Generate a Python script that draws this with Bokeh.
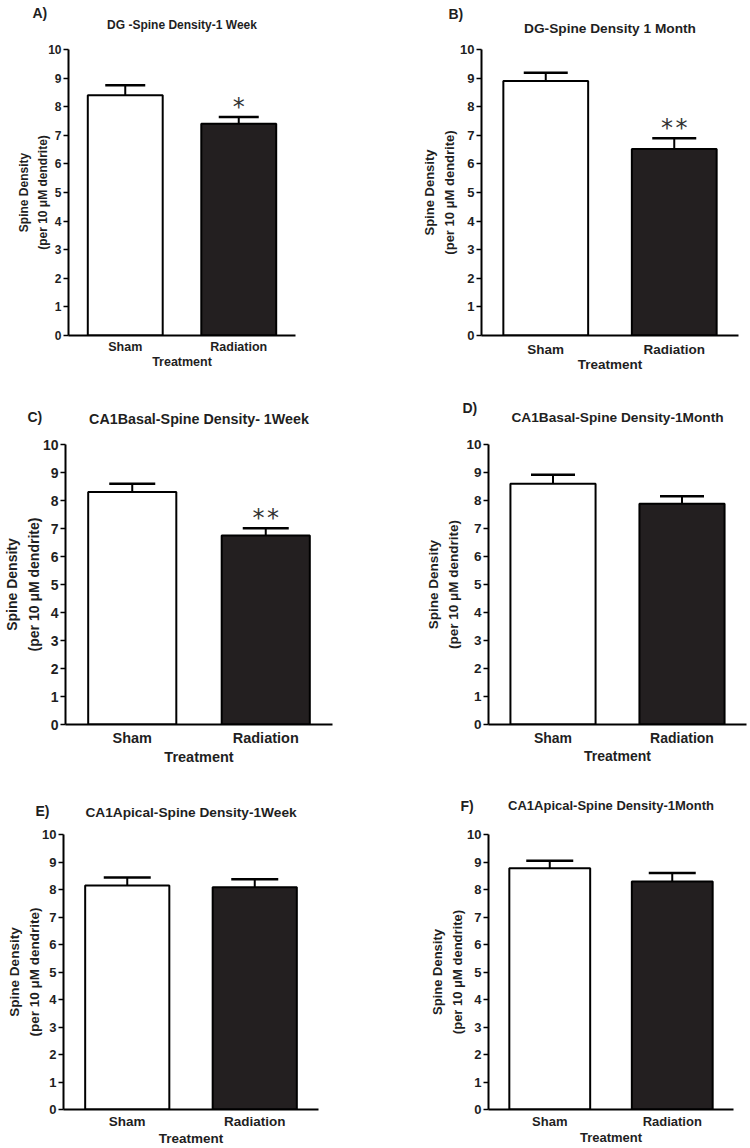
from bokeh.plotting import figure
from bokeh.models import (Range1d, FactorRange, FixedTicker, Whisker, TeeHead,
                          Label, ColumnDataSource)
from bokeh.layouts import column, row
from bokeh.embed import file_html
from bokeh.resources import INLINE
from bokeh.core.properties import value

# ---------------- data ----------------
categories = ["Sham", "Radiation"]
y_ticks = [0, 1, 2, 3, 4, 5, 6, 7, 8, 9, 10]
x_title = "Treatment"
y_title = "Spine Density\n(per 10 \u03bcM dendrite)"

letters = ["A)", "B)", "C)", "D)", "E)", "F)"]
titles = ["DG -Spine Density-1 Week",
          "DG-Spine Density 1 Month",
          "CA1Basal-Spine Density- 1Week",
          "CA1Basal-Spine Density-1Month",
          "CA1Apical-Spine Density-1Week",
          "CA1Apical-Spine Density-1Month"]

means_a = [8.40, 7.40]
err_a = [0.35, 0.24]
sig_a = ["", "*"]

means_b = [8.90, 6.52]
err_b = [0.29, 0.38]
sig_b = ["", "*\u200a*"]

means_c = [8.30, 6.75]
err_c = [0.30, 0.26]
sig_c = ["", "*\u200a*"]

means_d = [8.60, 7.88]
err_d = [0.32, 0.27]
sig_d = ["", ""]

means_e = [8.15, 8.08]
err_e = [0.29, 0.29]
sig_e = ["", ""]

means_f = [8.77, 8.29]
err_f = [0.28, 0.31]
sig_f = ["", ""]

bar_colors = ["white", "#231f20"]

# ---------------- style / layout ----------------
FONT = "Liberation Sans"
TXT = "#1f1f1f"

# figure size, borders; text sizes; cap width; axis standoffs;
# title / letter positions (pixels inside each figure)
styles = [
    dict(w=375, h=380, left=68, right=80, top=49, bottom=45, ft=12, fk=12, fx=12.5, fy=12,
         cap=40, ms=4, als=-2, yls=-5, ty=24, lx=32, ly=12),
    dict(w=375, h=380, left=106, right=12, top=49, bottom=45, ft=13.7, fk=13, fx=13.5, fy=13,
         cap=44, ms=6, als=-3, yls=0, ty=28, lx=73, ly=13),
    dict(w=375, h=400, left=65, right=43, top=64, bottom=56, ft=14.3, fk=14, fx=14.5, fy=14,
         cap=46, ms=5, als=0, yls=-2, ty=38, lx=27, ly=36),
    dict(w=375, h=400, left=113, right=4, top=64, bottom=56, ft=13.7, fk=13.5, fx=14, fy=13.5,
         cap=44, ms=5, als=-1, yls=2, ty=37, lx=87, ly=27),
    dict(w=375, h=368, left=63, right=57, top=54, bottom=38, ft=13.7, fk=13, fx=13.5, fy=13.5,
         cap=47, ms=4, als=-1, yls=-3, ty=32, lx=35, ly=30),
    dict(w=375, h=368, left=113, right=17, top=54, bottom=38, ft=13, fk=13, fx=13, fy=13,
         cap=47, ms=4, als=-2, yls=-1, ty=25, lx=85, ly=25),
]

data = [(means_a, err_a, sig_a), (means_b, err_b, sig_b), (means_c, err_c, sig_c),
        (means_d, err_d, sig_d), (means_e, err_e, sig_e), (means_f, err_f, sig_f)]


def make_panel(letter, title, means, errs, sig, s):
    p = figure(width=s["w"], height=s["h"], x_range=FactorRange(*categories),
               y_range=Range1d(0, 10), output_backend="svg", toolbar_location=None,
               min_border_left=s["left"], min_border_right=s["right"],
               min_border_top=s["top"], min_border_bottom=s["bottom"])
    p.outline_line_color = None
    p.grid.visible = False
    p.background_fill_color = "white"
    p.border_fill_color = "white"

    upper = [m + e for m, e in zip(means, errs)]
    src = ColumnDataSource(dict(x=categories, top=means, upper=upper,
                                color=bar_colors, sig=sig))

    p.vbar(x="x", top="top", width=0.66, source=src, fill_color="color",
           line_color="black", line_width=2)

    wh = Whisker(base="x", lower="top", upper="upper", source=src, dimension="height",
                 line_color="black", line_width=2, lower_head=None,
                 upper_head=TeeHead(size=s["cap"], line_color="black", line_width=2.5))
    p.add_layout(wh)

    p.text(x="x", y="upper", text="sig", source=src, text_align="center",
           text_baseline="alphabetic", y_offset=-10,
           text_font=value("DejaVu Sans"), text_font_size="24px", text_color="#333333")

    # axes
    xa = p.xaxis[0]
    xa.axis_label = x_title
    xa.axis_line_width = 2
    xa.axis_line_color = "black"
    xa.major_tick_line_color = None
    xa.major_tick_out = 0
    xa.major_tick_in = 0
    xa.minor_tick_line_color = None
    xa.major_label_standoff = s["ms"]
    xa.axis_label_standoff = s["als"]
    xa.major_label_text_font = FONT
    xa.major_label_text_font_style = "bold"
    xa.major_label_text_font_size = f"{s['fx']}px"
    xa.major_label_text_color = TXT
    xa.axis_label_text_font = FONT
    xa.axis_label_text_font_style = "bold"
    xa.axis_label_text_font_size = f"{s['fx']}px"
    xa.axis_label_text_color = TXT

    ya = p.yaxis[0]
    ya.ticker = FixedTicker(ticks=y_ticks)
    ya.axis_label = y_title
    ya.axis_line_width = 2
    ya.axis_line_color = "black"
    ya.major_tick_line_width = 1.5
    ya.major_tick_line_color = "black"
    ya.major_tick_out = 5
    ya.major_tick_in = 0
    ya.minor_tick_line_color = None
    ya.major_label_standoff = 2
    ya.axis_label_standoff = s["yls"]
    ya.major_label_text_font = FONT
    ya.major_label_text_font_style = "bold"
    ya.major_label_text_font_size = f"{s['fk']}px"
    ya.major_label_text_color = TXT
    ya.axis_label_text_font = FONT
    ya.axis_label_text_font_style = "bold"
    ya.axis_label_text_font_size = f"{s['fy']}px"
    ya.axis_label_text_color = TXT
    ya.axis_label_text_line_height = 1.35

    # convert pixel positions of title / letter into data coordinates of the frame
    fw = s["w"] - s["left"] - s["right"]
    fh = s["h"] - s["top"] - s["bottom"]
    nx = len(categories)
    fbottom = s["h"] - s["bottom"]

    def dx(px):
        return (px - s["left"]) / fw * nx

    def dy(py):
        return (fbottom - py) / fh * 10

    # placed in the side panel so that they are not clipped to the frame
    p.add_layout(Label(x=nx / 2, y=dy(s["ty"]), text=title,
                       text_align="center", text_baseline="middle",
                       text_font=FONT, text_font_style="bold",
                       text_font_size=f"{s['ft']}px", text_color=TXT), "above")
    p.add_layout(Label(x=dx(s["lx"]), y=dy(s["ly"]), text=letter,
                       text_align="left", text_baseline="middle",
                       text_font=FONT, text_font_style="bold",
                       text_font_size="14px", text_color=TXT), "above")
    return p


figs = [make_panel(letters[i], titles[i], *data[i], styles[i]) for i in range(6)]
layout = column(row(figs[0], figs[1]), row(figs[2], figs[3]), row(figs[4], figs[5]))

open("out.html", "w").write(file_html(layout, INLINE))
